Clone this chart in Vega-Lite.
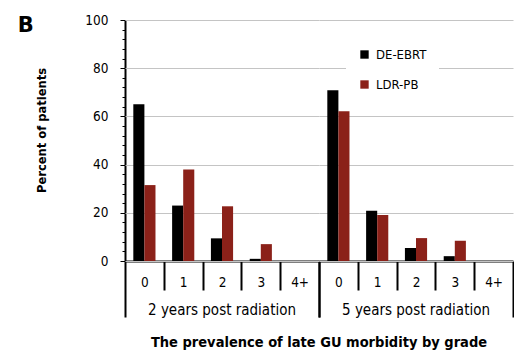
{
  "$schema": "https://vega.github.io/schema/vega-lite/v6.json",
  "padding": {"left": 17, "top": 13, "right": 0, "bottom": 0},
  "title": {"text": "B", "anchor": "start", "frame": "bounds", "orient": "top", "offset": 0, "dx": -18, "dy": 40, "baseline": "alphabetic", "font": "DejaVu Sans", "fontSize": 21, "fontWeight": "bold", "color": "#000"},
  "data": {"values": [
    {"period": "2 years post radiation", "grade": "0", "series": "DE-EBRT", "percent": 65},
    {"period": "2 years post radiation", "grade": "0", "series": "LDR-PB", "percent": 31.5},
    {"period": "2 years post radiation", "grade": "1", "series": "DE-EBRT", "percent": 23},
    {"period": "2 years post radiation", "grade": "1", "series": "LDR-PB", "percent": 38},
    {"period": "2 years post radiation", "grade": "2", "series": "DE-EBRT", "percent": 9.4},
    {"period": "2 years post radiation", "grade": "2", "series": "LDR-PB", "percent": 22.7},
    {"period": "2 years post radiation", "grade": "3", "series": "DE-EBRT", "percent": 0.9},
    {"period": "2 years post radiation", "grade": "3", "series": "LDR-PB", "percent": 7},
    {"period": "2 years post radiation", "grade": "4+", "series": "DE-EBRT", "percent": 0},
    {"period": "2 years post radiation", "grade": "4+", "series": "LDR-PB", "percent": 0},
    {"period": "5 years post radiation", "grade": "0", "series": "DE-EBRT", "percent": 70.8},
    {"period": "5 years post radiation", "grade": "0", "series": "LDR-PB", "percent": 62.1},
    {"period": "5 years post radiation", "grade": "1", "series": "DE-EBRT", "percent": 20.9},
    {"period": "5 years post radiation", "grade": "1", "series": "LDR-PB", "percent": 19.1},
    {"period": "5 years post radiation", "grade": "2", "series": "DE-EBRT", "percent": 5.4},
    {"period": "5 years post radiation", "grade": "2", "series": "LDR-PB", "percent": 9.5},
    {"period": "5 years post radiation", "grade": "3", "series": "DE-EBRT", "percent": 2},
    {"period": "5 years post radiation", "grade": "3", "series": "LDR-PB", "percent": 8.4},
    {"period": "5 years post radiation", "grade": "4+", "series": "DE-EBRT", "percent": 0},
    {"period": "5 years post radiation", "grade": "4+", "series": "LDR-PB", "percent": 0}
  ]},
  "spacing": 0,
  "facet": {
    "column": {
      "field": "period", "type": "nominal",
      "sort": ["2 years post radiation", "5 years post radiation"],
      "title": "The prevalence of late GU morbidity by grade",
      "header": {
        "labelOrient": "bottom", "titleOrient": "bottom",
        "labelFont": "DejaVu Sans Condensed", "labelFontSize": 15, "labelColor": "#000", "labelPadding": -15,
        "titleFont": "DejaVu Sans Condensed", "titleFontSize": 14.5, "titleFontWeight": "bold", "titleColor": "#000", "titlePadding": 8
      }
    }
  },
  "spec": {
    "width": 194,
    "height": 241,
    "mark": {"type": "bar"},
    "encoding": {
      "x": {
        "field": "grade", "type": "ordinal", "sort": ["0", "1", "2", "3", "4+"],
        "scale": {"paddingInner": 0, "paddingOuter": 0},
        "axis": {
          "title": null, "tickBand": "extent", "labelAngle": 0,
          "domainColor": "#000", "domainWidth": 2,
          "tickColor": "#000", "tickWidth": 2,
          "tickSize": {"condition": {"test": "datum.index < 0 || datum.value === '4+'", "value": 56}, "value": 29},
          "labelPadding": {"condition": {"test": "datum.value === '4+'", "value": -42}, "value": -15},
          "labelFont": "DejaVu Sans Condensed", "labelFontSize": 13.5, "labelColor": "#000"
        }
      },
      "xOffset": {
        "field": "series", "type": "nominal", "sort": ["DE-EBRT", "LDR-PB"],
        "scale": {"paddingInner": 0, "paddingOuter": 0.75}
      },
      "y": {
        "field": "percent", "type": "quantitative",
        "scale": {"domain": [0, 100], "nice": false},
        "axis": {
          "title": "Percent of patients",
          "values": [0, 4, 8, 12, 16, 20, 24, 28, 32, 36, 40, 44, 48, 52, 56, 60, 64, 68, 72, 76, 80, 84, 88, 92, 96, 100],
          "labelExpr": "datum.value % 20 === 0 ? datum.label : ''",
          "grid": true, "gridColor": "#c4c4c4", "gridWidth": 1,
          "gridOpacity": {"condition": {"test": "datum.value % 20 === 0", "value": 1}, "value": 0},
          "tickSize": {"condition": {"test": "datum.value % 20 === 0", "value": 5}, "value": 3},
          "tickColor": "#000", "tickWidth": 1,
          "domainColor": "#000", "domainWidth": 2,
          "labelPadding": 12,
          "labelFont": "DejaVu Sans Condensed", "labelFontSize": 13.5, "labelColor": "#000",
          "titleFont": "DejaVu Sans Condensed", "titleFontSize": 12.8, "titleFontWeight": "bold", "titleColor": "#000",
          "titlePadding": 36, "titleY": 110
        }
      },
      "color": {
        "field": "series", "type": "nominal",
        "scale": {"domain": ["DE-EBRT", "LDR-PB"], "range": ["#000000", "#8b2119"]},
        "legend": {
          "title": null, "orient": "none", "legendX": 221, "legendY": 16,
          "fillColor": "#ffffff", "padding": 12,
          "symbolType": "square", "symbolSize": 70, "symbolStrokeWidth": 0,
          "rowPadding": 16, "labelOffset": 5,
          "labelFont": "DejaVu Sans Condensed", "labelFontSize": 13, "labelColor": "#000"
        }
      }
    }
  },
  "config": {"view": {"stroke": null}}
}
